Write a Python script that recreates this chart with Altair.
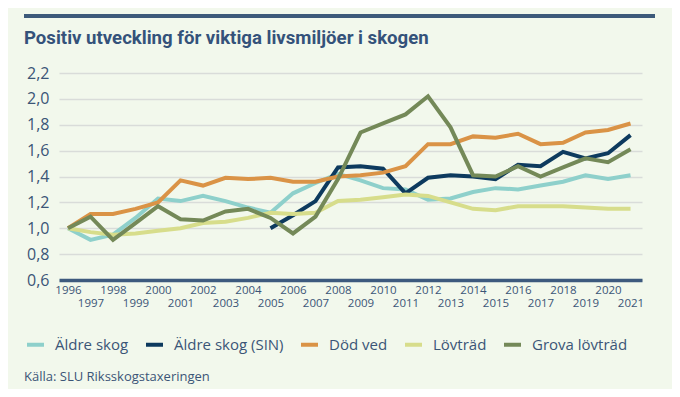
import altair as alt
import pandas as pd

years = list(range(1996, 2022))

aldre_skog = [1.00, 0.91, 0.95, 1.08, 1.23, 1.21, 1.25, 1.21, 1.16, 1.12, 1.27, 1.35, 1.42,
              1.37, 1.31, 1.30, 1.22, 1.23, 1.28, 1.31, 1.30, 1.33, 1.36, 1.41, 1.38, 1.41]
aldre_skog_sin = [None, None, None, None, None, None, None, None, None, 1.00, 1.10, 1.21, 1.47,
                  1.48, 1.46, 1.27, 1.39, 1.41, 1.40, 1.38, 1.49, 1.48, 1.59, 1.54, 1.58, 1.72]
dod_ved = [1.00, 1.11, 1.11, 1.15, 1.20, 1.37, 1.33, 1.39, 1.38, 1.39, 1.36, 1.36, 1.40,
           1.41, 1.43, 1.48, 1.65, 1.65, 1.71, 1.70, 1.73, 1.65, 1.66, 1.74, 1.76, 1.81]
lovtrad = [1.00, 0.97, 0.95, 0.96, 0.98, 1.00, 1.04, 1.05, 1.08, 1.12, 1.11, 1.12, 1.21,
           1.22, 1.24, 1.26, 1.25, 1.20, 1.15, 1.14, 1.17, 1.17, 1.17, 1.16, 1.15, 1.15]
grova_lovtrad = [1.00, 1.09, 0.91, 1.04, 1.17, 1.07, 1.06, 1.13, 1.15, 1.08, 0.96, 1.09, 1.38,
                 1.74, 1.81, 1.88, 2.02, 1.78, 1.41, 1.40, 1.48, 1.40, 1.47, 1.54, 1.51, 1.61]

series_names = ["Äldre skog", "Äldre skog (SIN)", "Död ved", "Lövträd", "Grova lövträd"]
series_values = [aldre_skog, aldre_skog_sin, dod_ved, lovtrad, grova_lovtrad]
series_colors = ["#8ed0cb", "#0d3a5e", "#da9346", "#d7dd8b", "#748958"]

y_ticks = [0.6, 0.8, 1.0, 1.2, 1.4, 1.6, 1.8, 2.0, 2.2]

title_text = "Positiv utveckling för viktiga livsmiljöer i skogen"
source_text = "Källa: SLU Riksskogstaxeringen"

rows = []
for name, vals in zip(series_names, series_values):
    for yr, v in zip(years, vals):
        if v is not None:
            rows.append({"År": yr, "Index": v, "Serie": name})
df = pd.DataFrame(rows)

FONT = "Open Sans"
TEXT_COLOR = "#3b5577"
BG = "#f2f8ec"

lines = alt.Chart(df).mark_line(strokeWidth=4, strokeJoin="miter").encode(
    x=alt.X("År:Q",
            scale=alt.Scale(domain=[1995.6, 2021.51], nice=False, zero=False),
            axis=alt.Axis(values=years, format="d", title=None, grid=False, ticks=False,
                          domain=True, domainColor="#3d5a7e", domainWidth=3.5,
                          labelExpr="datum.value % 2 == 0 ? datum.label : ['', datum.label]",
                          labelLineHeight=13, labelFontSize=11.5, labelPadding=4,
                          labelColor=TEXT_COLOR, labelFont=FONT, labelFlush=False,
                          labelOverlap=False)),
    y=alt.Y("Index:Q",
            scale=alt.Scale(domain=[0.6, 2.2], nice=False, zero=False),
            axis=alt.Axis(values=y_ticks, title=None, ticks=False, domain=False,
                          labelExpr="replace(format(datum.value, '.1f'), '.', ',')",
                          labelFontSize=16, labelPadding=10, labelColor=TEXT_COLOR,
                          labelFont=FONT, gridColor="#d9dcd9", gridWidth=1.5)),
    color=alt.Color("Serie:N",
                    scale=alt.Scale(domain=series_names, range=series_colors),
                    legend=alt.Legend(orient="none", legendX=-34, legendY=261,
                                      direction="horizontal", title=None,
                                      symbolType="stroke", symbolStrokeWidth=4,
                                      symbolSize=289, labelFontSize=15,
                                      labelColor=TEXT_COLOR, labelFont=FONT,
                                      labelOffset=9, columnPadding=9, padding=0)),
    order=alt.Order("År:Q"),
)

deco_df = pd.DataFrame({"t": [source_text], "title": [title_text]})
top_bar = alt.Chart(deco_df).mark_rule(color="#3d5a7a", strokeWidth=4).encode(
    x=alt.value(-35), x2=alt.value(596), y=alt.value(-57))
title = alt.Chart(deco_df).mark_text(align="left", baseline="alphabetic", fontSize=18.6,
                                     font="Roboto", fontWeight="bold",
                                     color="#34527a").encode(
    x=alt.value(-35), y=alt.value(-29), text="title:N")
source = alt.Chart(deco_df).mark_text(align="left", baseline="middle", fontSize=13,
                                      font=FONT, color=TEXT_COLOR).encode(
    x=alt.value(-35), y=alt.value(304), text="t:N")

chart = alt.layer(top_bar, title, lines, source).properties(
    width=583, height=207,
    autosize=alt.AutoSizeParams(type="none"),
    padding={"left": 51, "top": 65, "right": 30, "bottom": 109},
    background=BG,
).configure_view(stroke=None)

chart.save("out.html", embed_options={"renderer": "svg", "actions": False})
